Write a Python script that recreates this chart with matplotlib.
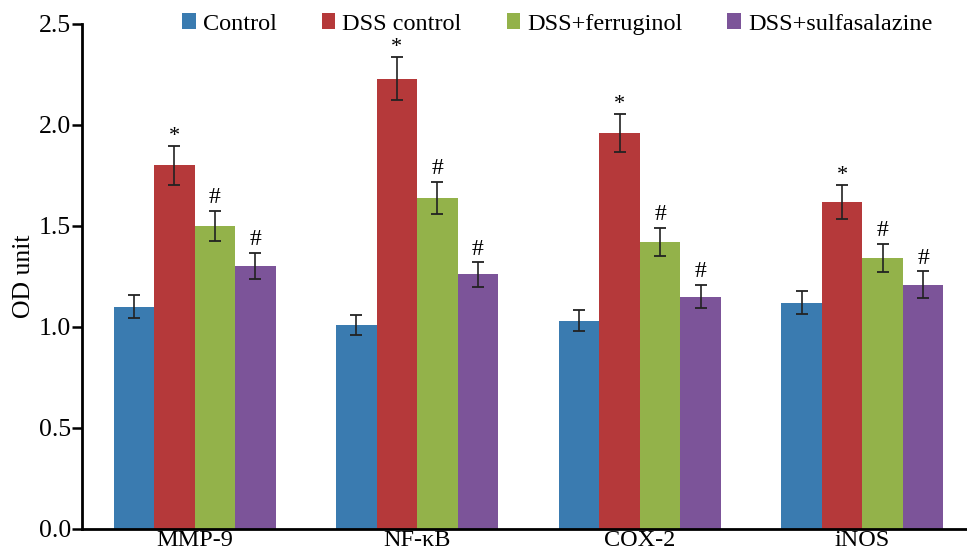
import numpy as np
import matplotlib.pyplot as plt

plt.rcParams['font.family'] = ['Liberation Serif', 'DejaVu Serif']

markers = ["MMP-9", "NF-\u03baB", "COX-2", "iNOS"]
groups = ["Control", "DSS control", "DSS+ferruginol", "DSS+sulfasalazine"]
colors = ["#3a7bb0", "#b5393a", "#93b24a", "#7c5499"]

control = [1.10, 1.01, 1.03, 1.12]
dss = [1.80, 2.23, 1.96, 1.62]
ferruginol = [1.50, 1.64, 1.42, 1.34]
sulfasalazine = [1.30, 1.26, 1.15, 1.21]

control_err = [0.056, 0.05, 0.052, 0.057]
dss_err = [0.095, 0.105, 0.095, 0.085]
ferruginol_err = [0.075, 0.08, 0.07, 0.07]
sulfasalazine_err = [0.065, 0.06, 0.058, 0.065]

signs = ["", "*", "#", "#"]

values = [control, dss, ferruginol, sulfasalazine]
errors = [control_err, dss_err, ferruginol_err, sulfasalazine_err]

fig = plt.figure(figsize=(9.67, 5.51), dpi=100)
ax = fig.add_axes([0.085, 0.04, 0.915, 0.9165])

x = np.arange(len(markers))
w = 0.182
for i, (vals, errs) in enumerate(zip(values, errors)):
    pos = x + (i - 1.5) * w
    ax.bar(pos, vals, w, color=colors[i], label=groups[i],
           yerr=errs, capsize=4.5,
           error_kw=dict(ecolor="#222222", elinewidth=1.2, capthick=1.3))
    if signs[i]:
        for p, v, e in zip(pos, vals, errs):
            if signs[i] == "*":
                ax.annotate("*", (p, v + e), xytext=(0, 0), textcoords="offset points",
                            ha="center", va="bottom", fontsize=16)
            else:
                ax.annotate("#", (p, v + e), xytext=(0, 2), textcoords="offset points",
                            ha="center", va="bottom", fontsize=17)

ax.set_xlim(-0.505, 3.47)
ax.set_ylim(0, 2.5)
ax.set_yticks([0, 0.5, 1.0, 1.5, 2.0, 2.5])
ax.set_yticklabels(["0.0", "0.5", "1.0", "1.5", "2.0", "2.5"])
ax.set_xticks(x)
ax.set_xticklabels(markers)
ax.tick_params(axis="x", length=0, pad=1, labelsize=17.5)
ax.tick_params(axis="y", length=7, width=1.8, pad=1, labelsize=18.5)
ax.set_ylabel("OD unit", fontsize=18.5, labelpad=3)

for s in ["top", "right"]:
    ax.spines[s].set_visible(False)
for s in ["left", "bottom"]:
    ax.spines[s].set_linewidth(2)

ax.legend(loc="upper center", bbox_to_anchor=(0.537, 1.04), ncol=4, frameon=False,
          fontsize=17.5, handlelength=0.55, handleheight=0.6, handletextpad=0.3,
          columnspacing=1.85, borderaxespad=0)

fig.savefig("out.png", dpi=100)
